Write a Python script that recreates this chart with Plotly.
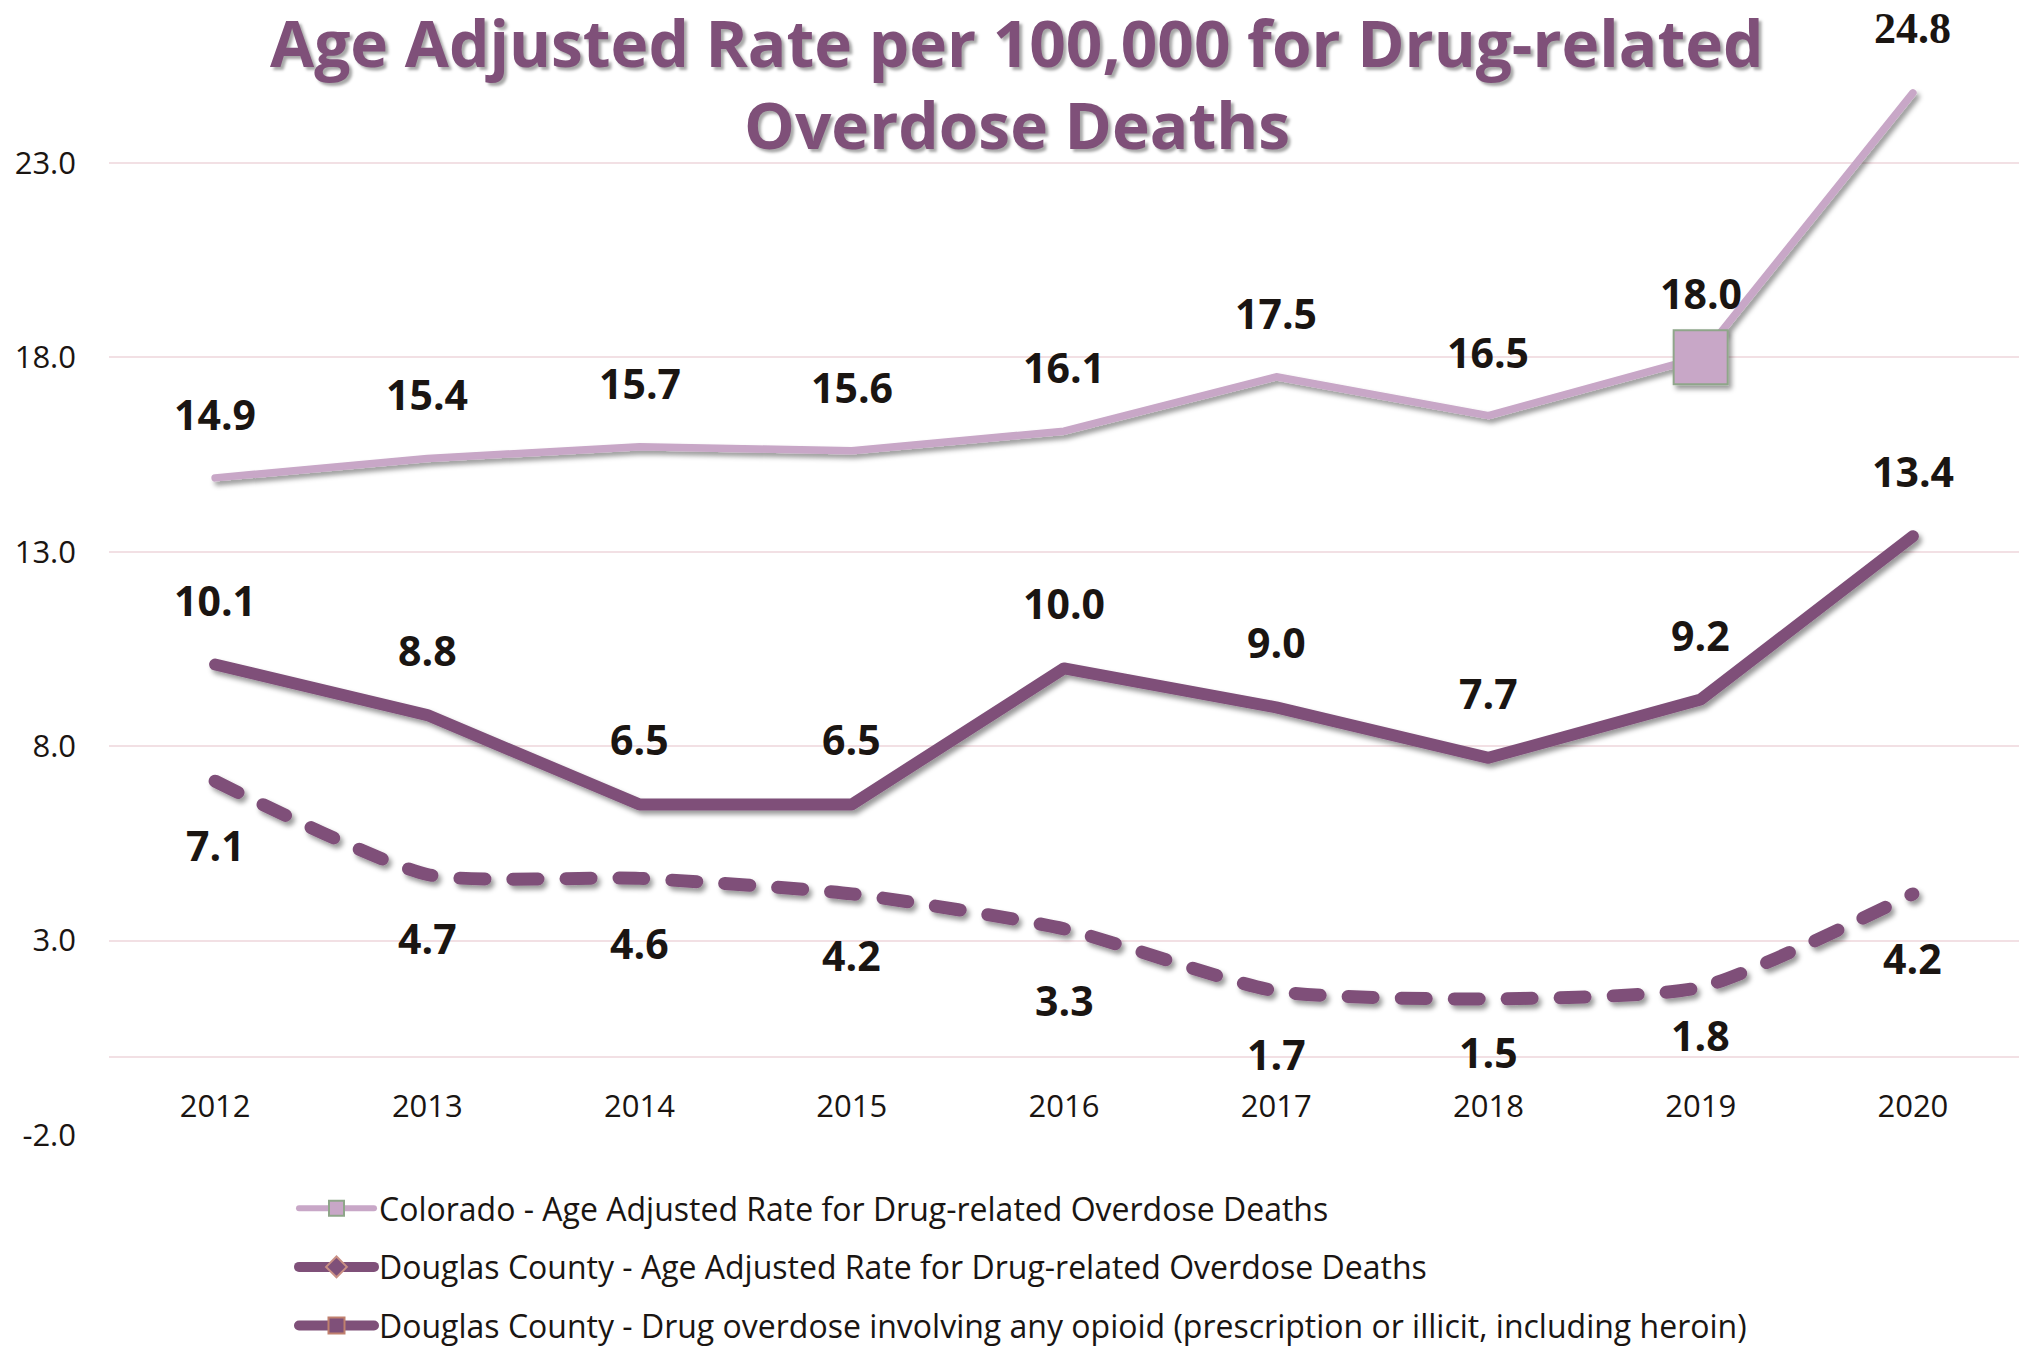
import plotly.graph_objects as go

years = [2012, 2013, 2014, 2015, 2016, 2017, 2018, 2019, 2020]
colorado = [14.9, 15.4, 15.7, 15.6, 16.1, 17.5, 16.5, 18.0, 24.8]
douglas = [10.1, 8.8, 6.5, 6.5, 10.0, 9.0, 7.7, 9.2, 13.4]
opioid = [7.1, 4.7, 4.6, 4.2, 3.3, 1.7, 1.5, 1.8, 4.2]
y_ticks = [-2.0, 3.0, 8.0, 13.0, 18.0, 23.0]
names = [
    "Colorado - Age Adjusted Rate for Drug-related Overdose Deaths",
    "Douglas County - Age Adjusted Rate for Drug-related Overdose Deaths",
    "Douglas County - Drug overdose involving any opioid (prescription or illicit, including heroin)",
]
title_lines = ["Age Adjusted Rate per 100,000 for Drug-related", "Overdose Deaths"]

# label pixel offsets (styling, not data)
off_colorado = [64] * 9
off_douglas = [65] * 9
off_opioid = [-64, -64, -65, -61, -71, -63, -53, -48, -64]

LIGHT = "#c8a7c7"
DARK = "#7f5079"
GRID = "#f2e0e4"
TXT = "#1a1512"

W, H = 2023, 1348
ML, MR, MT, MB = 109, 4, 0, 213
y_lo, y_hi = -2.0, 27.19
plot_w = W - ML - MR
plot_h = H - MT - MB

fig = go.Figure()

sizes = [0] * len(years)
sizes[7] = 54
opac = [0] * len(years)
opac[7] = 1
fig.add_trace(go.Scatter(
    x=years, y=colorado, mode="lines+markers", showlegend=False,
    line=dict(color=LIGHT, width=7.5),
    marker=dict(symbol="square", size=sizes, opacity=opac, color=LIGHT,
                line=dict(color="#8fa68a", width=2)),
))
fig.add_trace(go.Scatter(
    x=years, y=douglas, mode="lines", showlegend=False,
    line=dict(color=DARK, width=12),
))
fig.add_trace(go.Scatter(
    x=years, y=opioid, mode="lines", showlegend=False,
    line=dict(color=DARK, width=13, dash="25px,28px", shape="spline", smoothing=0.6),
))

fig.add_trace(go.Scatter(
    x=[None], y=[None], mode="lines+markers", name=names[0], legendgroup="a",
    line=dict(color=LIGHT, width=6),
    marker=dict(symbol="square", size=15, color=LIGHT, line=dict(color="#8fa68a", width=2)),
))
fig.add_trace(go.Scatter(
    x=[None], y=[None], mode="lines+markers", name=names[1], legendgroup="b",
    line=dict(color=DARK, width=10),
    marker=dict(symbol="diamond", size=16, color=DARK, line=dict(color="#c98f84", width=2)),
))
fig.add_trace(go.Scatter(
    x=[None], y=[None], mode="lines+markers", name=names[2], legendgroup="c",
    line=dict(color=DARK, width=10),
    marker=dict(symbol="square", size=16, color=DARK, line=dict(color="#c0806e", width=2)),
))

annotations = []
for series, offs, key in ((colorado, off_colorado, "c"), (douglas, off_douglas, "d"), (opioid, off_opioid, "o")):
    for x, v, s in zip(years, series, offs):
        if key == "c" and x == 2020:
            f = dict(family="Liberation Sans Narrow", size=44, color=TXT, weight="bold")
        else:
            f = dict(family="Open Sans", size=41, color=TXT, weight="bold")
        annotations.append(dict(
            x=x, y=v, xref="x", yref="y", text=f"{v:.1f}", showarrow=False,
            yshift=s, font=f, xanchor="center", yanchor="middle",
        ))

title_font = dict(family="Open Sans", size=64, color=DARK, weight="bold",
                  shadow="3px 3px 3px rgba(0,0,0,0.35)")
for txt, ypix in zip(title_lines, (42, 125)):
    annotations.append(dict(
        x=(1017 - ML) / plot_w, y=1 - (ypix - MT) / plot_h, xref="paper", yref="paper",
        text=txt, showarrow=False, font=title_font, xanchor="center", yanchor="middle",
    ))

fig.update_layout(
    width=W, height=H,
    margin=dict(l=ML, r=MR, t=MT, b=MB, autoexpand=False),
    paper_bgcolor="white", plot_bgcolor="white",
    font=dict(family="Open Sans", color=TXT),
    showlegend=True,
    legend=dict(
        xref="container", yref="container", x=294 / W, y=1 - 1181 / H,
        xanchor="left", yanchor="top", font=dict(size=32, color=TXT, family="Open Sans"),
        itemwidth=75, tracegroupgap=14, bgcolor="rgba(0,0,0,0)",
    ),
    xaxis=dict(
        range=[2011.5, 2020.5], tickvals=years, showgrid=False, zeroline=False,
        anchor="free", position=(0 - y_lo) / (y_hi - y_lo),
        showline=True, linecolor=GRID, linewidth=2, ticks="",
        tickfont=dict(size=31, color=TXT), ticklabelstandoff=22,
    ),
    yaxis=dict(
        range=[y_lo, y_hi], tickvals=y_ticks, ticktext=[f"{v:.1f}" for v in y_ticks],
        showgrid=True, gridcolor=GRID, gridwidth=2, zeroline=False,
        showline=False, ticks="", tickfont=dict(size=31, color=TXT),
        ticklabelstandoff=32,
    ),
    annotations=annotations,
)

post = """
(function(){
  var gd = document.getElementById('{plot_id}');
  function apply(){
    var svg = gd.querySelector('svg.main-svg');
    if(!svg) return;
    var ns = 'http://www.w3.org/2000/svg';
    if(!document.getElementById('lshadow')){
      var defs = svg.querySelector('defs');
      if(!defs){ defs = document.createElementNS(ns,'defs'); svg.insertBefore(defs, svg.firstChild); }
      var f = document.createElementNS(ns,'filter');
      f.setAttribute('id','lshadow');
      f.setAttribute('filterUnits','userSpaceOnUse');
      f.setAttribute('x','-3000'); f.setAttribute('y','-3000');
      f.setAttribute('width','9000'); f.setAttribute('height','9000');
      var ds = document.createElementNS(ns,'feDropShadow');
      ds.setAttribute('dx','3'); ds.setAttribute('dy','4');
      ds.setAttribute('stdDeviation','2.5');
      ds.setAttribute('flood-color','#000'); ds.setAttribute('flood-opacity','0.4');
      f.appendChild(ds); defs.appendChild(f);
    }
    gd.querySelectorAll('.scatterlayer .js-line').forEach(function(p){
      p.setAttribute('filter','url(#lshadow)');
      p.style.strokeLinecap = 'round';
      p.style.strokeLinejoin = 'round';
    });
    gd.querySelectorAll('.scatterlayer .point').forEach(function(p){
      p.setAttribute('filter','url(#lshadow)');
    });
    gd.querySelectorAll('.legend .js-line').forEach(function(p){
      p.style.strokeLinecap = 'round';
    });
  }
  apply();
  setTimeout(apply, 50);
  if(gd.on) gd.on('plotly_afterplot', apply);
})();
"""

fig.write_html("out.html", post_script=post)
